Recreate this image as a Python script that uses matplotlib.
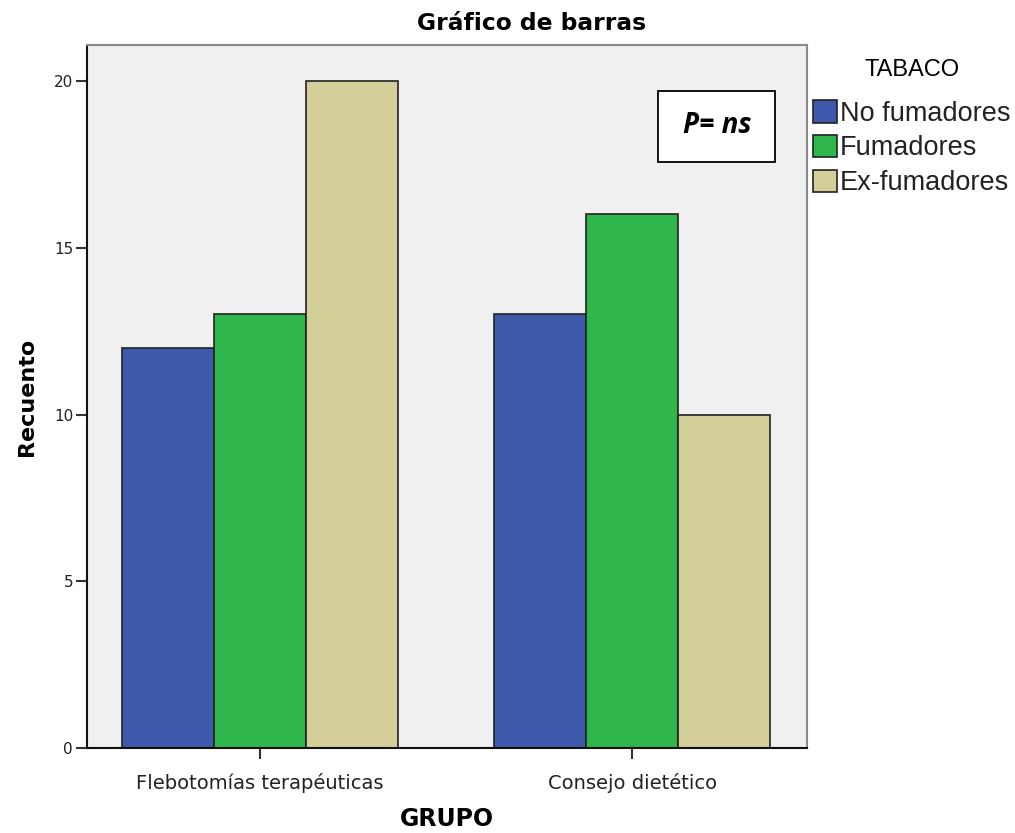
import matplotlib

matplotlib.use("Agg")
import matplotlib.pyplot as plt
import numpy as np
from matplotlib.patches import Patch

# data
grupos = ["Flebotomías terapéuticas", "Consejo dietético"]
series = ["No fumadores", "Fumadores", "Ex-fumadores"]
no_fumadores = [12, 13]
fumadores = [13, 16]
ex_fumadores = [20, 10]
colors = ["#3e58ac", "#2fb74b", "#d4ce98"]
yticks = [0, 5, 10, 15, 20]

fig = plt.figure(figsize=(10.15, 8.33), dpi=100)
ax = fig.add_axes([0.0857, 0.102, 0.7094, 0.844])
ax.set_facecolor("#f0f0f0")

x = np.arange(len(grupos))
width = 0.247
for i, (vals, col) in enumerate(zip([no_fumadores, fumadores, ex_fumadores], colors)):
    ax.bar(x + (i - 1) * width, vals, width, color=col, edgecolor="#222222", linewidth=1.2)

ax.set_xlim(-0.465, 1.470)
ax.set_ylim(0, 21.08)
ax.set_xticks(x)
ax.set_xticklabels(grupos, fontsize=14, color="#222222")
ax.set_yticks(yticks)
ax.set_yticklabels([str(v) for v in yticks], fontsize=11, color="#222222")
ax.tick_params(axis="both", direction="out", length=8, width=1.5, color="#333333")
ax.tick_params(axis="x", pad=10)
ax.tick_params(axis="y", pad=2)

for side in ["left", "bottom"]:
    ax.spines[side].set_color("#111111")
    ax.spines[side].set_linewidth(1.5)
for side in ["top", "right"]:
    ax.spines[side].set_color("#888888")
    ax.spines[side].set_linewidth(1.5)

# title is centred over the whole chart incl. legend
fig.text(0.524, 0.972, "Gráfico de barras", ha="center", va="center",
         fontsize=16.8, fontweight="bold")
ax.set_ylabel("Recuento", fontsize=16, fontweight="bold", labelpad=12)
ax.set_xlabel("GRUPO", fontsize=17, fontweight="bold", labelpad=10)

box = plt.Rectangle((0.793, 0.834), 0.163, 0.100, transform=ax.transAxes,
                    facecolor="white", edgecolor="black", linewidth=1.3, zorder=2)
ax.add_patch(box)
ax.text(0.875, 0.886, "P= ns", transform=ax.transAxes, ha="center", va="center",
        fontsize=20, fontweight="bold", fontstyle="italic", family="Open Sans", zorder=3)

handles = [Patch(facecolor=c, edgecolor="#222222", linewidth=1.2) for c in colors]
leg = fig.legend(handles, series, loc="upper left", bbox_to_anchor=(0.785, 0.949),
                 title="TABACO", frameon=False,
                 prop={"family": "Liberation Sans", "size": 19.5},
                 title_fontproperties={"family": "Liberation Sans", "size": 17},
                 handlelength=0.9, handleheight=0.9, handletextpad=0.1,
                 labelspacing=0.3, borderaxespad=0.2)
leg._legend_box.align = "center"
leg._legend_box.sep = 14
for t in leg.get_texts():
    t.set_color("#222222")

fig.savefig("out.png", dpi=100)
